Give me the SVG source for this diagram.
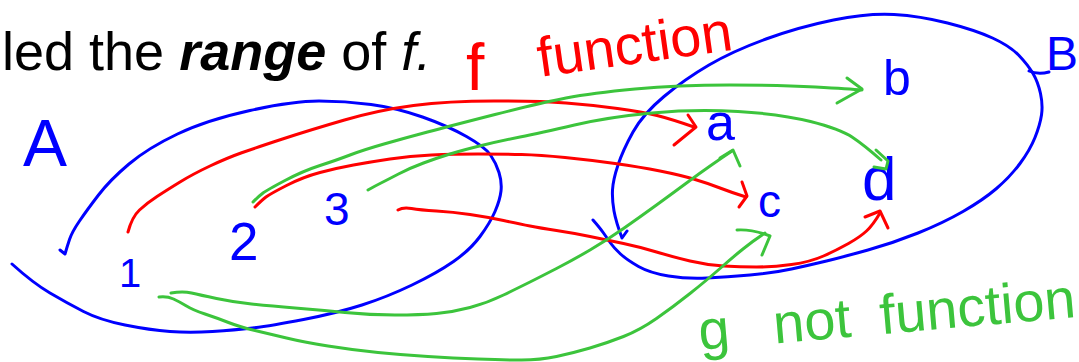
<svg xmlns="http://www.w3.org/2000/svg" width="1079" height="362" viewBox="0 0 1079 362">
<style>
.s{fill:none;stroke-width:3;stroke-linecap:round;stroke-linejoin:round}
.bl{stroke:#0000ff}
.rd{stroke:#ff0000}
.gr{stroke:#3cc43c}
.t{font-family:"Liberation Sans",Arial,sans-serif}
.tb{fill:#0000ff}
.tr{fill:#ff0000}
.tg{fill:#3cc43c}
.bi{font-weight:bold;font-style:italic}
.it{font-style:italic}
</style>
<rect width="1079" height="362" fill="#ffffff"/>
<g id="header">
<text class="t" x="2" y="70" font-size="54" fill="#000000">led the <tspan class="bi">range</tspan> of <tspan class="it">f.</tspan></text>
</g>
<g id="set-A">
<path class="s bl" d="M12,264 Q33,283 50,293 Q67,303 83.5,311.5 Q100,320 125,325 Q150,330 170,331.5 Q190,333 212.5,331.5 Q235,330 252.5,328 Q270,326 303.5,319.5 Q337,313 362,305 Q387,297 412,285 Q437,273 453.5,261.5 Q470,250 480,236.5 Q490,223 495,211.5 Q500,200 501,191 Q502,182 499,172.5 Q496,163 490.5,155 Q485,147 466.5,136.5 Q448,126 422.5,117 Q397,108 371,104.5 Q345,101 319,101 Q293,101 250,110.5 Q207,120 177.5,134 Q148,148 129,164 Q110,180 98.5,195 Q87,210 79.5,221 Q72,232 69.5,239.5 Q67,247 65,254 L60,250"/>
<text class="t tb" x="23" y="166" font-size="66">A</text>
</g>
<g id="el-1"><text class="t tb" x="119" y="287" font-size="40">1</text></g>
<g id="el-2"><text class="t tb" x="229" y="260" font-size="53">2</text></g>
<g id="el-3"><text class="t tb" x="324" y="225" font-size="46">3</text></g>
<g id="set-B">
<path class="s bl" d="M593,220 Q600,228 603.5,233 Q607,238 610.5,243 Q614,248 620.5,254 Q627,260 638.5,266.5 Q650,273 668.5,276 Q687,279 707,278 Q727,277 750,275 Q773,273 791.5,269 Q810,265 826.5,261 Q843,257 868,250 Q893,243 918,233 Q943,223 963,211.5 Q983,200 996.5,188.5 Q1010,177 1020,163.5 Q1030,150 1035,137.5 Q1040,125 1041.5,115 Q1043,105 1040.5,93.5 Q1038,82 1033,73.5 Q1028,65 1019,55.5 Q1010,46 992.5,38 Q975,30 947.5,23 Q920,16 894,14.5 Q868,13 833.5,20 Q799,27 766,39 Q733,51 709,65 Q685,79 664,96.5 Q643,114 633,132 Q623,150 618,165 Q613,180 612.5,190 Q612,200 614,211 Q616,222 622,238 L627,231"/>
<path class="s bl" d="M1029,71 Q1038,75 1049,72"/>
<text class="t tb" x="1046" y="70" font-size="48">B</text>
</g>
<g id="el-a"><text class="t tb" x="706" y="140" font-size="52">a</text></g>
<g id="el-b"><text class="t tb" x="883" y="95" font-size="50">b</text></g>
<g id="el-c"><text class="t tb" x="758" y="217" font-size="46">c</text></g>
<g id="el-d"><text class="t tb" x="862" y="200" font-size="62">d</text></g>
<g id="label-f">
<text class="t tr" x="466" y="90" font-size="66">f</text>
<text class="t tr" x="540" y="77" font-size="56" transform="rotate(-8 540 77)">function</text>
</g>
<g id="label-g">
<text class="t tg" font-size="56" transform="rotate(-5 700 350)"><tspan x="700" y="350">g</tspan><tspan x="775" y="350">not</tspan><tspan x="882" y="350">function</tspan></text>
</g>
<g id="connectors">
<path class="s rd" d="M128,232 Q132,217 139.5,210 Q147,203 157,196.5 Q167,190 180,182 Q193,174 210,166 Q227,158 241,153 Q255,148 282.5,139 Q310,130 344.5,120 Q379,110 413.5,105.5 Q448,101 494,101 Q540,101 566,103 Q592,105 617.5,108.5 Q643,112 657,115.5 Q671,119 694,127"/>
<path class="s rd" d="M688,115 L696,127 L674,145"/>
<path class="s rd" d="M255,207 Q262,200 266,197 Q270,194 286.5,185.5 Q303,177 320,172.5 Q337,168 353.5,165 Q370,162 390,159 Q410,156 431.5,155 Q453,154 478,154 Q503,154 521.5,154.5 Q540,155 565,157.5 Q590,160 615,163.5 Q640,167 660,171 Q680,175 693.5,179 Q707,183 720,188 Q733,193 746,197"/>
<path class="s rd" d="M742,182 L747,196 L739,207"/>
<path class="s rd" d="M398,210 Q403,207 411.5,208.5 Q420,210 436.5,211 Q453,212 470,214.5 Q487,217 503.5,220.5 Q520,224 530,226 Q540,228 556.5,230.5 Q573,233 590,236.5 Q607,240 623.5,243.5 Q640,247 656.5,252 Q673,257 690,261 Q707,265 723.5,266 Q740,267 756.5,267 Q773,267 791.5,264.5 Q810,262 823.5,256 Q837,250 848.5,243.5 Q860,237 866.5,231 Q873,225 880,213"/>
<path class="s rd" d="M865,217 L880,211 L888,228"/>
<path class="s gr" d="M253,202 Q259,196 263,193 Q267,190 285,180.5 Q303,171 320,165.5 Q337,160 350,155 Q363,150 384,144 Q405,138 427.5,132 Q450,126 495,114.5 Q540,103 566,98 Q592,93 635,89 Q678,85 729.5,85 Q781,85 815.5,87 Q850,89 862,90"/>
<path class="s gr" d="M847,78 L862,89 L837,103"/>
<path class="s gr" d="M368,190 Q375,186 381,183 Q387,180 398.5,174 Q410,168 423.5,163 Q437,158 450,154 Q463,150 481.5,145.5 Q500,141 520,137 Q540,133 574.5,125 Q609,117 652,113 Q695,109 738,111.5 Q781,114 810.5,121.5 Q840,129 852,137 Q864,145 881,160"/>
<path class="s gr" d="M876,150 L888,161 L886,169 L874,167"/>
<path class="s gr" d="M171,293 Q183,291 191.5,293 Q200,295 216.5,298.5 Q233,302 251.5,304 Q270,306 295,308 Q320,310 345,312.5 Q370,315 395,315 Q420,315 436.5,313.5 Q453,312 470,307.5 Q487,303 503.5,295 Q520,287 530,282 Q540,277 556.5,268.5 Q573,260 590,250 Q607,240 623.5,228.5 Q640,217 656.5,205 Q673,193 686.5,183 Q700,173 711.5,165 Q723,157 732,151"/>
<path class="s gr" d="M720,158 L733,150 L740,166"/>
<path class="s gr" d="M159,297 Q167,296 173.5,299 Q180,302 186.5,306 Q193,310 205,314 Q217,318 228.5,322.5 Q240,327 255,330.5 Q270,334 286.5,338 Q303,342 328,346 Q353,350 378,352.5 Q403,355 428,356.5 Q453,358 478,359 Q503,360 521.5,360 Q540,360 556.5,356.5 Q573,353 590,348 Q607,343 623.5,336.5 Q640,330 656.5,318.5 Q673,307 690,293.5 Q707,280 720,268.5 Q733,257 743,249 Q753,241 765,233"/>
<path class="s gr" d="M737,230 Q752,229 770,236 L762,255"/>
</g>
</svg>
